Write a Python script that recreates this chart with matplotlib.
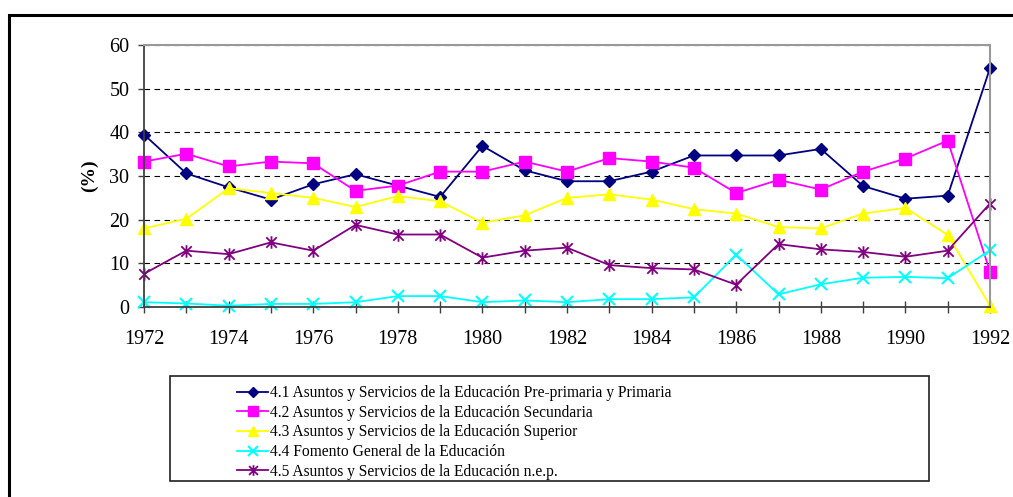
#!/usr/bin/env python3
# -*- coding: utf-8 -*-
"""
Line chart of education spending shares by function, 1972-1992.
"""

import matplotlib
matplotlib.use('Agg')
import matplotlib.pyplot as plt
from matplotlib.path import Path
from matplotlib.patches import Rectangle

years = list(range(1972, 1993))

labels = [
    '4.1 Asuntos y Servicios de la Educación Pre-primaria y Primaria',
    '4.2 Asuntos y Servicios de la Educación Secundaria',
    '4.3 Asuntos y Servicios de la Educación Superior',
    '4.4 Fomento General de la Educación',
    '4.5 Asuntos y Servicios de la Educación n.e.p.',
]

primaria = [39.5, 30.6, 27.4, 24.6, 28.1, 30.4, 27.8, 25.2, 36.9, 31.3, 28.8,
            28.8, 31.0, 34.7, 34.7, 34.7, 36.2, 27.7, 24.8, 25.5, 54.7]
secundaria = [33.3, 35.1, 32.2, 33.3, 32.9, 26.6, 27.8, 31.0, 31.0, 33.3, 31.0,
              34.1, 33.3, 31.9, 26.1, 29.1, 26.9, 31.0, 34.0, 38.1, 8.1]
superior = [18.0, 20.2, 27.2, 26.1, 25.0, 22.9, 25.4, 24.2, 19.3, 21.0, 25.0,
            25.8, 24.6, 22.4, 21.4, 18.3, 18.0, 21.4, 22.7, 16.5, 0.3]
fomento = [1.1, 0.8, 0.3, 0.7, 0.7, 1.1, 2.5, 2.5, 1.1, 1.5, 1.1,
           1.8, 1.8, 2.2, 12.0, 2.9, 5.2, 6.7, 6.9, 6.6, 13.0]
nep = [7.6, 12.9, 12.1, 14.8, 12.9, 18.8, 16.6, 16.6, 11.3, 12.9, 13.6,
       9.6, 8.9, 8.6, 5.1, 14.4, 13.2, 12.6, 11.5, 12.9, 23.7]

# Excel style star marker: an X with a vertical bar
star = Path([(-1, -1), (1, 1), (-1, 1), (1, -1), (0, -1.2), (0, 1.2)],
            [Path.MOVETO, Path.LINETO, Path.MOVETO, Path.LINETO,
             Path.MOVETO, Path.LINETO])

plt.rcParams['font.family'] = ['Liberation Serif', 'DejaVu Serif']

W, H = 1013, 497
figure = plt.figure(figsize=(W / 100, H / 100), dpi=100)
axes = figure.add_axes([144 / W, 1 - 307 / H, 846 / W, 262 / H])

axes.plot(years, primaria, color='#000080', lw=1.3, marker='D', ms=6.5,
          clip_on=False, label=labels[0])
axes.plot(years, secundaria, color='#FF00FF', lw=1.3, marker='s', ms=8,
          clip_on=False, label=labels[1])
axes.plot(years, superior, color='#FFFF00', lw=1.3, marker='^', ms=9,
          clip_on=False, label=labels[2])
axes.plot(years, fomento, color='#00FFFF', lw=1.3, marker='x', ms=8,
          mew=1.5, clip_on=False, label=labels[3])
axes.plot(years, nep, color='#800080', lw=1.3, marker=star, ms=9,
          mew=1.3, clip_on=False, label=labels[4])

axes.set_xlim(1972, 1992)
axes.set_ylim(0, 60)
axes.set_yticks(range(0, 61, 10))
axes.set_xticks(years)
axes.set_xticklabels([str(y) if y % 2 == 0 else '' for y in years])
axes.grid(axis='y', color='black', ls=(0, (5, 4)), lw=0.8)
axes.set_axisbelow(True)
axes.tick_params(axis='x', direction='inout', length=9, width=1,
                 color='#404040', labelsize=14.5, pad=12)
axes.tick_params(axis='y', direction='out', length=4.5, width=1,
                 color='#404040', labelsize=14.5, pad=6)
for side in ['left', 'bottom']:
    axes.spines[side].set_color('#404040')
    axes.spines[side].set_linewidth(1.3)
for side in ['top', 'right']:
    axes.spines[side].set_color('#999999')
    axes.spines[side].set_linewidth(1.5)
axes.set_ylabel('(%)', fontsize=14, fontweight='bold', labelpad=8)

# outer chart border (runs off the right and bottom edges)
figure.patches.append(Rectangle((8.5 / W, -0.05), 1.1, 1 - 14.5 / H + 0.05,
                                transform=figure.transFigure, fill=False,
                                ec='black', lw=2.2))
# legend box
figure.patches.append(Rectangle((170 / W, 1 - 481 / H), 759 / W, 105 / H,
                                transform=figure.transFigure, fill=False,
                                ec='#202020', lw=1.2))
handles, names = axes.get_legend_handles_labels()
figure.legend(handles, names, loc='upper left',
              bbox_to_anchor=(237 / W, 1 - 385 / H), frameon=False,
              fontsize=11.2, handlelength=2.0, handletextpad=0.15,
              labelspacing=0.24, borderpad=0, borderaxespad=0,
              markerscale=0.85)

figure.savefig('out.png', dpi=100)
plt.close()
